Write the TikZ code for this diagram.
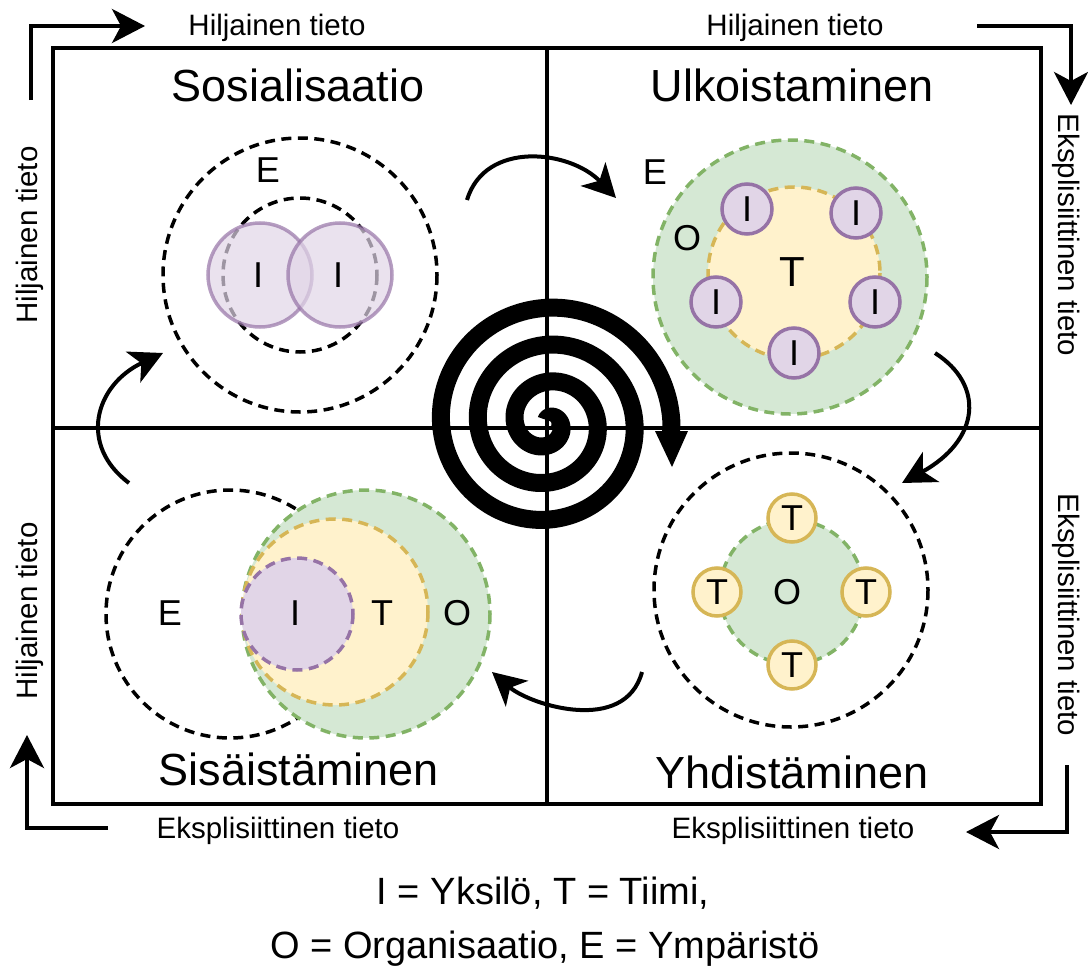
\documentclass[tikz,border=0pt]{standalone}
\usepackage{fontspec}
\setmainfont{Liberation Sans}
\usetikzlibrary{arrows.meta}

\definecolor{grfill}{HTML}{D5E8D4}
\definecolor{grline}{HTML}{82B366}
\definecolor{yefill}{HTML}{FFF2CC}
\definecolor{yeline}{HTML}{D6B656}
\definecolor{pufill}{HTML}{E1D5E7}
\definecolor{puline}{HTML}{9673A6}

\begin{document}
\begin{tikzpicture}[x=1pt,y=-1pt,
  title/.style={font=\fontsize{45}{54}\selectfont, anchor=base, inner sep=0pt},
  sidelabel/.style={font=\fontsize{29.5}{35}\selectfont, inner sep=0pt},
  legend/.style={font=\fontsize{38}{46}\selectfont, anchor=base, inner sep=0pt},
  letter/.style={font=\fontsize{36}{43}\selectfont, inner sep=0pt},
  bigletter/.style={font=\fontsize{42}{50}\selectfont, inner sep=0pt},
  dashline/.style={line width=3.5pt, dash pattern=on 10pt off 6.5pt},
  envcircle/.style={dashline, draw=black},
  orgcircle/.style={dashline, draw=grline, fill=grfill},
  teamcircle/.style={dashline, draw=yeline, fill=yefill},
  indcircle/.style={dashline, draw=puline, fill=pufill},
  person/.style={circle, draw=puline, fill=pufill, line width=3.5pt, minimum size=50pt, inner sep=0pt, font=\fontsize{36}{43}\selectfont},
  teamball/.style={circle, draw=yeline, fill=yefill, line width=3.5pt, minimum size=48pt, inner sep=0pt, font=\fontsize{36}{43}\selectfont},
  flow/.style={line width=4pt, -{Stealth[length=33pt,width=34pt,inset=9pt]}},
  frame/.style={line width=4pt}
]
\useasboundingbox (0,0) rectangle (1088,969);

% ---- frame and quadrant lines ----
\draw[frame] (53,48) rectangle (1041,804);
\draw[frame] (547,48) -- (547,804);
\draw[frame] (53,428) -- (1041,428);

% ---- knowledge-conversion arrows around the frame ----
\coordinate (tlS) at (31,100);  \coordinate (tlE) at (145,26);
\coordinate (trS) at (977,26);  \coordinate (trE) at (1071,105);
\coordinate (brS) at (1067,765);\coordinate (brE) at (966,832);
\coordinate (blS) at (108,828); \coordinate (blE) at (27,735);
\draw[flow] (tlS) |- (tlE);
\draw[flow] (trS) -| (trE);
\draw[flow] (brS) |- (brE);
\draw[flow] (blS) -| (blE);

\node[sidelabel, anchor=base] (lblTL) at (277,35) {Hiljainen tieto};
\node[sidelabel, anchor=base] (lblTR) at (795,35) {Hiljainen tieto};
\node[sidelabel, anchor=base] (lblBL) at (278,838) {Eksplisiittinen tieto};
\node[sidelabel, anchor=base] (lblBR) at (793,838) {Eksplisiittinen tieto};
\node[sidelabel, rotate=90] (lblLT) at (30,235) {Hiljainen tieto};
\node[sidelabel, rotate=90] (lblLB) at (30,611) {Hiljainen tieto};
\node[sidelabel, rotate=-90] (lblRT) at (1066,235) {Eksplisiittinen tieto};
\node[sidelabel, rotate=-90] (lblRB) at (1066,615) {Eksplisiittinen tieto};

% ---- quadrant titles ----
\node[title] (tSos) at (298,101) {Sosialisaatio};
\node[title] (tUlk) at (792,101) {Ulkoistaminen};
\node[title] (tSis) at (299,785) {Sisäistäminen};
\node[title] (tYhd) at (792,788) {Yhdistäminen};

% ---- Sosialisaatio ----
\draw[envcircle] (300,275) circle[radius=137];
\draw[envcircle] (300,275) circle[radius=77];
\begin{scope}[opacity=0.7]
  \draw[draw=puline, fill=pufill, line width=3.5pt] (260,275) circle[radius=52];
  \draw[draw=puline, fill=pufill, line width=3.5pt] (340,275) circle[radius=52];
\end{scope}
\node[letter] (sosE) at (268,170) {E};
\node[letter] (sosI1) at (258,275) {I};
\node[letter] (sosI2) at (338,275) {I};

% ---- Ulkoistaminen ----
\draw[orgcircle] (790,277) circle[radius=137];
\draw[teamcircle] (794,273) circle[radius=86];
\node[letter] (ulkE) at (655,172) {E};
\node[letter] (ulkO) at (687,238) {O};
\node[bigletter] (ulkT) at (792,272) {T};
\node[person] (ulkI1) at (747,209) {I};
\node[person] (ulkI2) at (856,213) {I};
\node[person] (ulkI3) at (716,302) {I};
\node[person] (ulkI4) at (875,302) {I};
\node[person] (ulkI5) at (794,353) {I};

% ---- Yhdistäminen ----
\draw[envcircle] (791,590) circle[radius=137];
\draw[orgcircle] (792,592) circle[radius=72];
\node[letter] (yhdO) at (787,592) {O};
\node[teamball] (yhdT1) at (792,518) {T};
\node[teamball] (yhdT2) at (717,592) {T};
\node[teamball] (yhdT3) at (866,592) {T};
\node[teamball] (yhdT4) at (792,665) {T};

% ---- Sisäistäminen ----
\draw[envcircle] (230,614) circle[radius=124];
\draw[orgcircle] (366,614) circle[radius=124];
\draw[teamcircle] (335,612) circle[radius=93];
\draw[indcircle] (297,614) circle[radius=56];
\node[letter] (sisE) at (170,613) {E};
\node[letter] (sisI) at (295,613) {I};
\node[letter] (sisT) at (382,613) {T};
\node[letter] (sisO) at (457,613) {O};

% ---- cycle arrows between the quadrants ----
\coordinate (c1S) at (467,200);  \coordinate (c1E) at (616,198);
\coordinate (c2S) at (935,353);  \coordinate (c2E) at (902,483);
\coordinate (c3S) at (642,672);  \coordinate (c3E) at (492,672);
\coordinate (c4S) at (129,483);  \coordinate (c4E) at (163,353);
\draw[flow] (c1S) .. controls (485,140) and (570,150) .. (c1E);
\draw[flow] (c2S) .. controls (985,385) and (980,440) .. (c2E);
\draw[flow] (c3S) .. controls (625,735) and (530,705) .. (c3E);
\draw[flow] (c4S) .. controls (78,445) and (95,385) .. (c4E);

% ---- knowledge spiral ----
\draw[line width=18pt, line join=round]
  plot[domain=30:1211, samples=400, smooth, variable=\t]
  ({547+(\t/360)*37*cos(1211-\t)}, {423-(\t/360)*37*sin(1211-\t)})
  -- (671,433);
\fill (655,431) -- (688,431) -- (672,467) -- cycle;

% ---- legend ----
\node[legend] (leg1) at (543,904) {I = Yksilö, T = Tiimi,};
\node[legend] (leg2) at (545,958) {O = Organisaatio, E = Ympäristö};
\end{tikzpicture}
\end{document}
